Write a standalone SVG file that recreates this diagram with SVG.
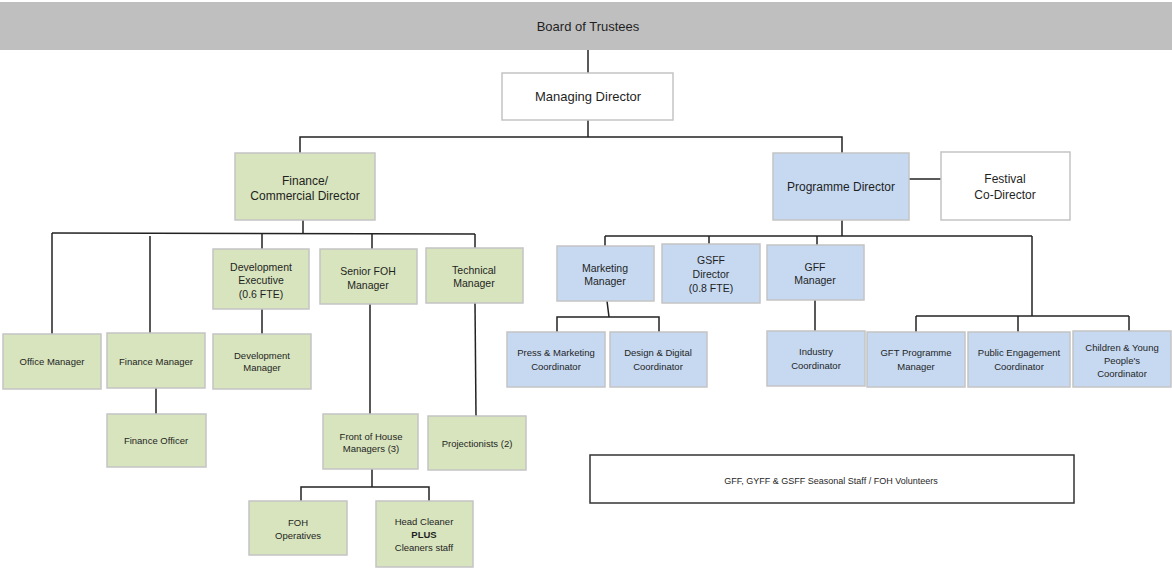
<svg xmlns="http://www.w3.org/2000/svg" width="1172" height="568" viewBox="0 0 1172 568">
<style>
  text { font-family: "Liberation Sans", Arial, sans-serif; fill: #1f1f1f; text-anchor: middle; }
  .box { stroke: #c4c4c4; stroke-width: 1.5; }
  .g { fill: #d7e4bd; }
  .b { fill: #c6d9f1; }
  .w { fill: #ffffff; }
  .lg { font-size: 13px; }
  .md { font-size: 12px; }
  .sm { font-size: 10.5px; }
  .xs { font-size: 9.5px; }
  .conn line, .conn polyline { stroke: #222; stroke-width: 1.5; fill: none; }
</style>
<rect width="1172" height="568" fill="#ffffff"/>

<g class="conn" id="connectors">
  <line x1="588" y1="50" x2="588" y2="73"/>
  <line x1="588" y1="120" x2="588" y2="137"/>
  <polyline points="300,153 300,137 842,137 842,153"/>
  <line x1="303" y1="220" x2="303" y2="234"/>
  <line x1="52" y1="233" x2="475" y2="234"/>
  <line x1="52" y1="233" x2="52" y2="334"/>
  <line x1="150" y1="236" x2="150" y2="333"/>
  <line x1="262" y1="234" x2="262" y2="249"/>
  <line x1="372" y1="234" x2="372" y2="249"/>
  <line x1="475" y1="234" x2="475" y2="248"/>
  <line x1="262" y1="309" x2="262" y2="334"/>
  <line x1="156" y1="388" x2="156" y2="414"/>
  <line x1="370" y1="304" x2="370" y2="414"/>
  <line x1="475" y1="303" x2="476" y2="416"/>
  <line x1="372" y1="469" x2="372" y2="487"/>
  <polyline points="301,501 301,487 429,487 429,502"/>
  <line x1="908" y1="179" x2="941" y2="179"/>
  <line x1="842" y1="220" x2="842" y2="236"/>
  <line x1="605" y1="236" x2="1032" y2="236"/>
  <line x1="605" y1="236" x2="605" y2="246"/>
  <line x1="709" y1="236" x2="709" y2="244"/>
  <line x1="817" y1="236" x2="817" y2="245"/>
  <line x1="1032" y1="236" x2="1032" y2="316"/>
  <line x1="607" y1="301" x2="609" y2="317"/>
  <polyline points="557,332 557,317 659,317 659,332"/>
  <line x1="815" y1="300" x2="815" y2="331"/>
  <line x1="916" y1="316" x2="1129" y2="316"/>
  <line x1="916" y1="316" x2="916" y2="332"/>
  <line x1="1018" y1="316" x2="1018" y2="332"/>
  <line x1="1129" y1="316" x2="1129" y2="332"/>
</g>

<g id="board">
  <rect x="0" y="2" width="1172" height="48" fill="#bfbfbf"/>
  <text class="lg" x="588" y="31">Board of Trustees</text>
</g>
<g id="managing-director">
  <rect class="box w" x="502" y="73" width="171" height="47"/>
  <text class="lg" x="588" y="101">Managing Director</text>
</g>
<g id="finance-director">
  <rect class="box g" x="235" y="153" width="140" height="67"/>
  <text class="md" x="305" y="185">Finance/</text>
  <text class="md" x="305" y="200">Commercial Director</text>
</g>
<g id="programme-director">
  <rect class="box b" x="773" y="153" width="136" height="67"/>
  <text class="md" x="841" y="191">Programme Director</text>
</g>
<g id="festival-co-director">
  <rect class="box w" x="941" y="152" width="129" height="68"/>
  <text class="md" x="1005" y="183">Festival</text>
  <text class="md" x="1005" y="199">Co-Director</text>
</g>

<g id="development-executive">
  <rect class="box g" x="213" y="249" width="96" height="60"/>
  <text class="sm" x="261" y="271">Development</text>
  <text class="sm" x="261" y="284">Executive</text>
  <text class="sm" x="261" y="298">(0.6 FTE)</text>
</g>
<g id="senior-foh-manager">
  <rect class="box g" x="320" y="249" width="97" height="55"/>
  <text class="sm" x="368" y="275">Senior FOH</text>
  <text class="sm" x="368" y="289">Manager</text>
</g>
<g id="technical-manager">
  <rect class="box g" x="426" y="248" width="97" height="55"/>
  <text class="sm" x="474" y="274">Technical</text>
  <text class="sm" x="474" y="287">Manager</text>
</g>
<g id="office-manager">
  <rect class="box g" x="3" y="334" width="98" height="55"/>
  <text class="xs" x="52" y="365">Office Manager</text>
</g>
<g id="finance-manager">
  <rect class="box g" x="107" y="333" width="98" height="55"/>
  <text class="xs" x="156" y="365">Finance Manager</text>
</g>
<g id="development-manager">
  <rect class="box g" x="213" y="334" width="98" height="55"/>
  <text class="xs" x="262" y="359">Development</text>
  <text class="xs" x="262" y="371">Manager</text>
</g>
<g id="finance-officer">
  <rect class="box g" x="107" y="414" width="99" height="53"/>
  <text class="xs" x="156" y="444">Finance Officer</text>
</g>
<g id="foh-managers">
  <rect class="box g" x="323" y="414" width="95" height="55"/>
  <text class="xs" x="371" y="440">Front of House</text>
  <text class="xs" x="371" y="452">Managers (3)</text>
</g>
<g id="projectionists">
  <rect class="box g" x="428" y="416" width="98" height="54"/>
  <text class="xs" x="477" y="447">Projectionists (2)</text>
</g>
<g id="foh-operatives">
  <rect class="box g" x="249" y="501" width="98" height="54"/>
  <text class="xs" x="298" y="526">FOH</text>
  <text class="xs" x="298" y="539">Operatives</text>
</g>
<g id="head-cleaner">
  <rect class="box g" x="376" y="501" width="97" height="66"/>
  <text class="xs" x="424" y="525">Head Cleaner</text>
  <text class="xs" x="424" y="538" font-weight="bold">PLUS</text>
  <text class="xs" x="424" y="551">Cleaners staff</text>
</g>

<g id="marketing-manager">
  <rect class="box b" x="557" y="246" width="97" height="55"/>
  <text class="sm" x="605" y="272">Marketing</text>
  <text class="sm" x="605" y="285">Manager</text>
</g>
<g id="gsff-director">
  <rect class="box b" x="662" y="244" width="98" height="59"/>
  <text class="sm" x="711" y="264">GSFF</text>
  <text class="sm" x="711" y="278">Director</text>
  <text class="sm" x="711" y="292">(0.8 FTE)</text>
</g>
<g id="gff-manager">
  <rect class="box b" x="767" y="245" width="97" height="55"/>
  <text class="sm" x="815" y="271">GFF</text>
  <text class="sm" x="815" y="284">Manager</text>
</g>
<g id="press-marketing-coordinator">
  <rect class="box b" x="507" y="332" width="98" height="55"/>
  <text class="xs" x="556" y="356">Press &amp; Marketing</text>
  <text class="xs" x="556" y="370">Coordinator</text>
</g>
<g id="design-digital-coordinator">
  <rect class="box b" x="610" y="332" width="97" height="55"/>
  <text class="xs" x="658" y="356">Design &amp; Digital</text>
  <text class="xs" x="658" y="370">Coordinator</text>
</g>
<g id="industry-coordinator">
  <rect class="box b" x="767" y="331" width="98" height="55"/>
  <text class="xs" x="816" y="355">Industry</text>
  <text class="xs" x="816" y="369">Coordinator</text>
</g>
<g id="gft-programme-manager">
  <rect class="box b" x="867" y="332" width="98" height="55"/>
  <text class="xs" x="916" y="356">GFT Programme</text>
  <text class="xs" x="916" y="370">Manager</text>
</g>
<g id="public-engagement-coordinator">
  <rect class="box b" x="968" y="332" width="102" height="55"/>
  <text class="xs" x="1019" y="356">Public Engagement</text>
  <text class="xs" x="1019" y="370">Coordinator</text>
</g>
<g id="children-young-peoples-coordinator">
  <rect class="box b" x="1073" y="331" width="98" height="56"/>
  <text class="xs" x="1122" y="351">Children &amp; Young</text>
  <text class="xs" x="1122" y="364">People's</text>
  <text class="xs" x="1122" y="377">Coordinator</text>
</g>

<g id="seasonal-staff">
  <rect x="590" y="455" width="484" height="48" fill="#ffffff" stroke="#333" stroke-width="1.5"/>
  <text class="xs" x="831" y="484" style="font-size:9px">GFF, GYFF &amp; GSFF Seasonal Staff / FOH Volunteers</text>
</g>
</svg>
